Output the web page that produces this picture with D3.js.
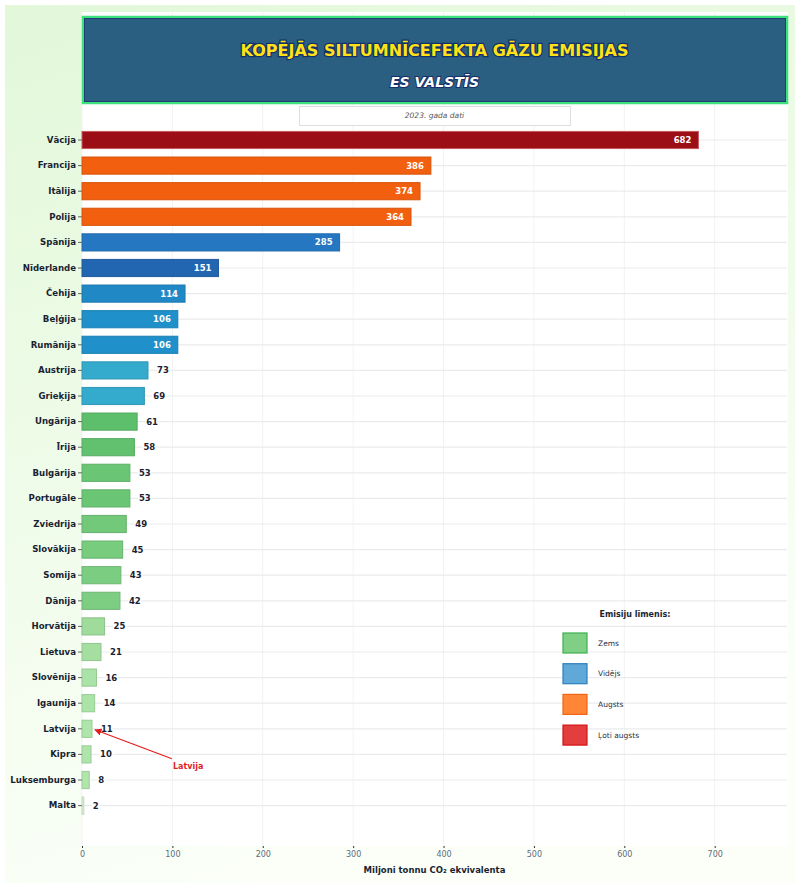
<!DOCTYPE html>
<html>
<head>
<meta charset="utf-8">
<script src="https://cdn.jsdelivr.net/npm/d3@7"></script>
<style>
  html, body { margin: 0; padding: 0; background: #fff; }
  svg { display: block; font-family: "DejaVu Sans", sans-serif; }
</style>
</head>
<body>
<svg id="chart" width="800" height="888"></svg>
<script>
// ES valstu kopējās SEG emisijas, 2023

const countries = ['Vācija','Francija','Itālija','Polija','Spānija','Nīderlande','Čehija','Beļģija','Rumānija',
  'Austrija','Grieķija','Ungārija','Īrija','Bulgārija','Portugāle','Zviedrija','Slovākija','Somija','Dānija',
  'Horvātija','Lietuva','Slovēnija','Igaunija','Latvija','Kipra','Luksemburga','Malta'];
const emissions = [682, 386, 374, 364, 285, 151, 114, 106, 106, 73, 69, 61, 58, 53, 53, 49, 45, 43, 42,
  25, 21, 16, 14, 11, 10, 8, 2];
const xTicks = [0, 100, 200, 300, 400, 500, 600, 700];
const levelNames = ['Zems', 'Vidējs', 'Augsts', 'Ļoti augsts'];
const levelFills = ['#7fd085', '#5fa8d8', '#ff8636', '#e43d3d'];
const levelStrokes = ['#3cb04c', '#2a7fc0', '#f26412', '#d21414'];

const data = countries.map((c, i) => ({country: c, value: emissions[i]}));

const svg = d3.select('#chart');
const W = 800, H = 888;
const plot = {left: 82, right: 787, top: 12, bottom: 846};

// fons
const defs = svg.append('defs');
const bg = defs.append('linearGradient').attr('id', 'bg').attr('x1', 0).attr('y1', 0).attr('x2', 0.3).attr('y2', 1);
bg.append('stop').attr('offset', '0%').attr('stop-color', '#e2f8d9');
bg.append('stop').attr('offset', '100%').attr('stop-color', '#fbfff8');

svg.append('rect').attr('x', 5).attr('y', 5).attr('width', W - 10).attr('height', H - 10).attr('fill', 'url(#bg)');
svg.append('rect')
  .attr('x', plot.left).attr('y', plot.top)
  .attr('width', plot.right - plot.left + 1).attr('height', plot.bottom - plot.top)
  .attr('fill', '#fff');

const x = d3.scaleLinear().domain([0, 780]).range([plot.left, plot.right]);
const y = d3.scaleBand().domain(countries).range([126.3, 819.3]).paddingInner(0.33).paddingOuter(0.2);

// krāsas pēc līmeņa
const level = v => v >= 500 ? 3 : v >= 300 ? 2 : v >= 65 ? 1 : 0;
const greens = d3.scaleLinear().domain([2, 8, 16, 25, 45, 61]).range(['#d8f5d3', '#b0e6ac', '#aae3a7', '#9fdc9c', '#77cc7e', '#5dbf6b']);
const blues = d3.scaleLinear().domain([69, 73, 106, 151, 285]).range(['#34aacc', '#34abcd', '#1f90c9', '#2266b1', '#2677c2']);
const colorOf = v => {
  const l = level(v);
  if (l === 3) return '#9c0e15';
  if (l === 2) return '#f25f0e';
  if (l === 1) return blues(v);
  return greens(v);
};

// režģis
const grid = svg.append('g');
grid.selectAll('.vg').data(xTicks).join('line')
  .attr('x1', d => x(d)).attr('x2', d => x(d))
  .attr('y1', plot.top).attr('y2', plot.bottom)
  .attr('stroke', '#f1f3f1').attr('stroke-width', 1);
grid.selectAll('.hg').data(data).join('line')
  .attr('x1', plot.left).attr('x2', plot.right)
  .attr('y1', d => y(d.country) + y.bandwidth() / 2).attr('y2', d => y(d.country) + y.bandwidth() / 2)
  .attr('stroke', '#e9ebee').attr('stroke-width', 1.2);

// virsraksta bloks
const tb = svg.append('g');
tb.append('rect').attr('x', plot.left + 1).attr('y', 17).attr('width', plot.right - plot.left - 1).attr('height', 86)
  .attr('fill', '#2b5f82').attr('stroke', '#3ee07e').attr('stroke-width', 2.5);
tb.append('rect').attr('x', plot.left + 2.5).attr('y', 18.5).attr('width', plot.right - plot.left - 4).attr('height', 83)
  .attr('fill', 'none').attr('stroke', '#1d3f78').attr('stroke-width', 1);
const cx = (plot.left + plot.right) / 2;
tb.append('text').attr('x', cx).attr('y', 56).attr('text-anchor', 'middle')
  .attr('font-size', 16).attr('font-weight', 'bold').attr('fill', '#ffe216')
  .attr('stroke', '#14306a').attr('stroke-width', 2.5).attr('paint-order', 'stroke')
  .text('KOPĒJĀS SILTUMNĪCEFEKTA GĀZU EMISIJAS');
tb.append('text').attr('x', cx).attr('y', 87).attr('text-anchor', 'middle')
  .attr('font-size', 14).attr('font-weight', 'bold').attr('font-style', 'italic').attr('fill', '#fff')
  .attr('stroke', '#14306a').attr('stroke-width', 2).attr('paint-order', 'stroke')
  .text('ES VALSTĪS');

svg.append('rect').attr('x', 299.5).attr('y', 106.5).attr('width', 271).attr('height', 19)
  .attr('fill', '#fff').attr('stroke', '#dcdfe2').attr('stroke-width', 1);
svg.append('text').attr('x', cx).attr('y', 118).attr('text-anchor', 'middle')
  .attr('font-size', 7.5).attr('font-style', 'italic').attr('fill', '#555')
  .text('2023. gada dati');

// stabiņi
const bars = svg.append('g');
bars.selectAll('rect').data(data).join('rect')
  .attr('x', x(0)).attr('y', d => y(d.country))
  .attr('width', d => Math.max(1, x(d.value) - x(0))).attr('height', y.bandwidth())
  .attr('fill', d => colorOf(d.value))
  .attr('stroke', d => level(d.value) === 3 ? '#c8585c' : d3.color(colorOf(d.value)).darker(0.35))
  .attr('stroke-width', 1);

// vērtības
const inside = d => d.value > 100;
svg.append('g').selectAll('text').data(data).join('text')
  .attr('x', d => inside(d) ? x(d.value) - 7 : x(d.value) + 9)
  .attr('y', d => y(d.country) + y.bandwidth() / 2)
  .attr('dy', '0.35em')
  .attr('text-anchor', d => inside(d) ? 'end' : 'start')
  .attr('font-size', 8.5).attr('font-weight', 'bold')
  .attr('fill', d => inside(d) ? '#fff' : '#1a1f33')
  .attr('stroke', d => inside(d) ? 'none' : '#fff').attr('stroke-width', 3).attr('paint-order', 'stroke')
  .text(d => d.value);

// asis
const yAxis = svg.append('g').attr('transform', `translate(${plot.left},0)`)
  .call(d3.axisLeft(y).tickSize(4).tickPadding(2));
yAxis.select('.domain').remove();
yAxis.selectAll('line').attr('stroke', '#666');
yAxis.selectAll('text').attr('font-family', '"DejaVu Sans", sans-serif')
  .attr('font-size', 8.6).attr('font-weight', 'bold').attr('fill', '#1a1f33');

const xAxis = svg.append('g').attr('transform', `translate(0,${plot.bottom})`)
  .call(d3.axisBottom(x).tickValues(xTicks).tickSize(2).tickPadding(3));
xAxis.select('.domain').remove();
xAxis.selectAll('line').attr('stroke', '#333');
xAxis.selectAll('text').attr('font-family', '"DejaVu Sans", sans-serif')
  .attr('font-size', 8).attr('fill', '#5d6b7c');

svg.append('text').attr('x', cx).attr('y', 873).attr('text-anchor', 'middle')
  .attr('font-size', 8.5).attr('font-weight', 'bold').attr('fill', '#1a1f33')
  .text('Miljoni tonnu CO₂ ekvivalenta');

// Latvijas anotācija
const lv = data.find(d => d.country === 'Latvija');
const lvY = y(lv.country) + y.bandwidth() / 2;
defs.append('marker').attr('id', 'arr').attr('viewBox', '0 0 10 10').attr('refX', 9).attr('refY', 5)
  .attr('markerWidth', 6).attr('markerHeight', 6).attr('orient', 'auto')
  .append('path').attr('d', 'M0,0L10,5L0,10z').attr('fill', '#e01e1e');
svg.append('line')
  .attr('x1', x(lv.value) + 80).attr('y1', lvY + 30)
  .attr('x2', x(lv.value) + 3).attr('y2', lvY + 1)
  .attr('stroke', '#e01e1e').attr('stroke-width', 1.2).attr('marker-end', 'url(#arr)');
svg.append('text').attr('x', x(lv.value) + 81).attr('y', lvY + 40)
  .attr('font-size', 8).attr('font-weight', 'bold').attr('fill', '#e01e1e')
  .text('Latvija');

// leģenda
const lg = svg.append('g').attr('transform', 'translate(563,633)');
lg.append('text').attr('x', 72).attr('y', -16).attr('text-anchor', 'middle')
  .attr('font-size', 8).attr('font-weight', 'bold').attr('fill', '#1a1f33')
  .text('Emisiju līmenis:');
const items = lg.selectAll('g').data(levelNames).join('g')
  .attr('transform', (d, i) => `translate(0,${i * 30.7})`);
items.append('rect').attr('width', 24).attr('height', 20)
  .attr('fill', (d, i) => levelFills[i]).attr('stroke', (d, i) => levelStrokes[i]).attr('stroke-width', 1.2);
items.append('text').attr('x', 35).attr('y', 10).attr('dy', '0.35em')
  .attr('font-size', 7.5).attr('fill', '#2a3040')
  .text(d => d);
</script>
</body>
</html>
